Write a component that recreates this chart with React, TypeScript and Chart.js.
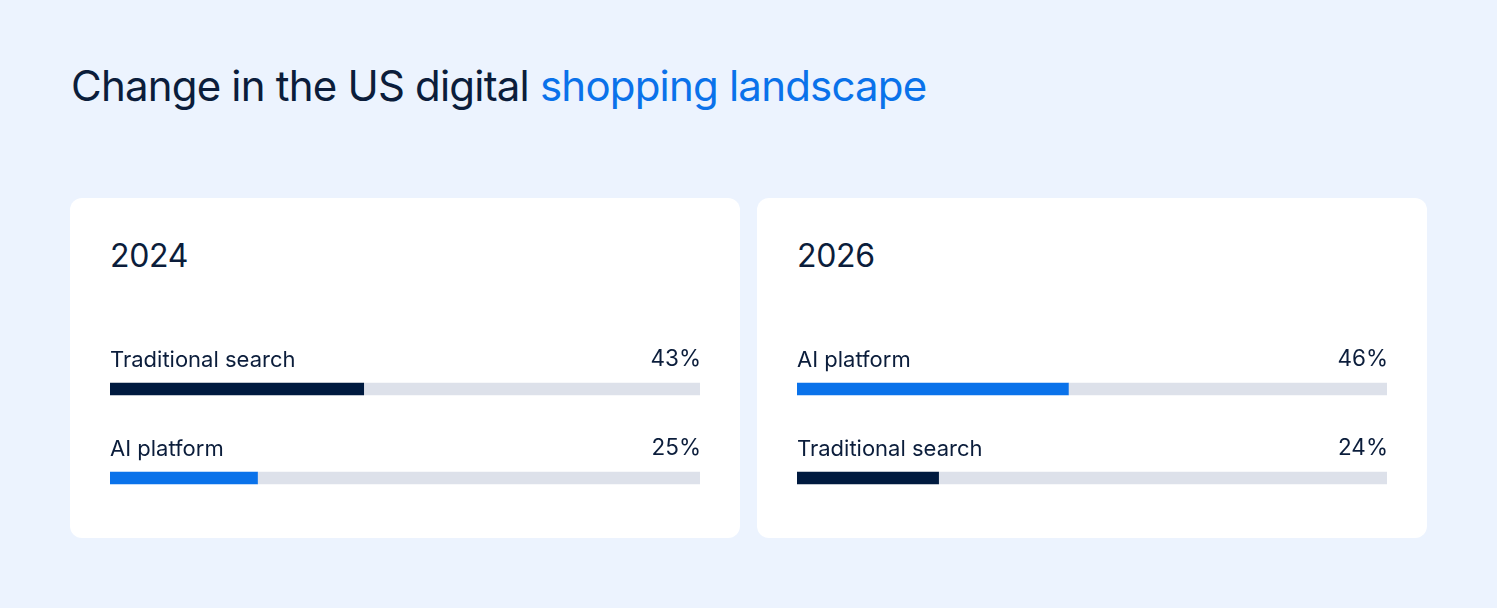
import React, { useEffect, useRef } from "react";
import { Chart, registerables } from "chart.js";

Chart.register(...registerables);

const titleDark = "Change in the US digital";
const titleBlue = "shopping landscape";

const years = ["2024", "2026"];
const labels2024 = ["Traditional search", "AI platform"];
const values2024 = [43, 25];
const labels2026 = ["AI platform", "Traditional search"];
const values2026 = [46, 24];

const NAVY = "#001A3F";
const BLUE = "#0A72EA";
const TRACK = "#DDE1EA";
const TEXT = "#0B1D3B";
const BG = "#ECF3FE";

const colorFor = (label: string) => (label === "AI platform" ? BLUE : NAVY);

const labelPlugin = {
  id: "barLabels",
  afterDatasetsDraw(chart: any) {
    const ctx = chart.ctx;
    const meta = chart.getDatasetMeta(0);
    const ds = chart.data.datasets[0];
    const area = chart.chartArea;
    ctx.save();
    ctx.fillStyle = TEXT;
    ctx.textBaseline = "alphabetic";
    meta.data.forEach((bar: any, i: number) => {
      const y = bar.y;
      ctx.font = "400 22px Inter";
      ctx.textAlign = "left";
      ctx.fillText(String(chart.data.labels[i]), area.left, y - 22);
      ctx.font = "400 22.5px Inter";
      ctx.textAlign = "right";
      ctx.fillText(ds.data[i] + "%", area.right + 1, y - 23);
    });
    ctx.restore();
  },
};

function BarCard({ year, labels, values, left }: { year: string; labels: string[]; values: number[]; left: number }) {
  const ref = useRef<HTMLCanvasElement | null>(null);
  useEffect(() => {
    if (!ref.current) return;
    const chart = new Chart(ref.current, {
      type: "bar",
      data: {
        labels,
        datasets: [
          {
            data: values,
            backgroundColor: labels.map(colorFor),
            barThickness: 12,
            borderWidth: 0,
            borderRadius: 0,
          },
          {
            data: values.map((v) => 100 - v),
            backgroundColor: TRACK,
            barThickness: 12,
            borderWidth: 0,
            borderRadius: 0,
          },
        ],
      },
      options: {
        indexAxis: "y",
        responsive: false,
        maintainAspectRatio: false,
        animation: false,
        devicePixelRatio: 1,
        layout: { padding: { top: 24.5, bottom: 7.5, left: 0, right: 4 } },
        scales: {
          x: { type: "linear", min: 0, max: 100, stacked: true, display: false },
          y: { stacked: true, display: false, offset: true },
        },
        plugins: { legend: { display: false }, tooltip: { enabled: false } },
      },
      plugins: [labelPlugin],
    } as any);
    return () => chart.destroy();
  }, []);
  return (
    <div
      style={{
        position: "absolute",
        left,
        top: 198,
        width: 670,
        height: 340,
        background: "#FFFFFF",
        borderRadius: 12,
      }}
    >
      <div
        style={{
          position: "absolute",
          left: 40,
          top: 42,
          fontFamily: "Inter",
          fontSize: 32,
          lineHeight: "32px",
          color: TEXT,
          fontWeight: 400,
          letterSpacing: "-0.3px",
        }}
      >
        {year}
      </div>
      <canvas
        ref={ref}
        width={594}
        height={210}
        style={{ position: "absolute", left: 40, top: 122, width: 594, height: 210 }}
      />
    </div>
  );
}

export default function App() {
  return (
    <div style={{ position: "fixed", inset: 0, background: BG, overflow: "hidden" }}>
      <div
        style={{
          position: "absolute",
          left: 71,
          top: 64.5,
          fontFamily: "Inter",
          fontSize: 42,
          lineHeight: "42px",
          letterSpacing: "-0.8px",
          color: TEXT,
          whiteSpace: "nowrap",
        }}
      >
        {titleDark} <span style={{ color: BLUE }}>{titleBlue}</span>
      </div>
      <BarCard year={years[0]} labels={labels2024} values={values2024} left={70} />
      <BarCard year={years[1]} labels={labels2026} values={values2026} left={757} />
    </div>
  );
}
